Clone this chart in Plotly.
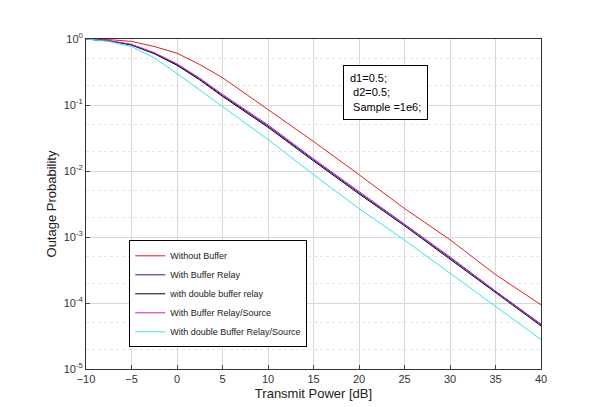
import plotly.graph_objects as go

snr = [-10, -7.5, -5, -2.5, 0, 2.5, 5, 10, 15, 20, 25, 30, 35, 40]

without_buffer = [1.0, 0.98, 0.92, 0.77, 0.61, 0.41, 0.26, 0.085, 0.028, 0.0088, 0.0027, 9.1e-4, 2.7e-4, 9.4e-5]
buffer_relay = [1.0, 0.94, 0.82, 0.61, 0.41, 0.25, 0.14, 0.048, 0.0148, 0.0047, 0.00155, 4.8e-4, 1.5e-4, 4.7e-5]
double_buffer_relay = [1.0, 0.935, 0.81, 0.60, 0.40, 0.24, 0.135, 0.046, 0.0142, 0.0045, 0.00148, 4.6e-4, 1.45e-4, 4.5e-5]
buffer_relay_source = [1.0, 0.945, 0.83, 0.62, 0.42, 0.255, 0.145, 0.050, 0.0153, 0.0049, 0.0016, 5.0e-4, 1.52e-4, 4.8e-5]
double_buffer_relay_source = [1.0, 0.92, 0.77, 0.52, 0.30, 0.17, 0.095, 0.03, 0.0088, 0.0027, 9.0e-4, 2.8e-4, 8.9e-5, 2.8e-5]

y_tickvals = [1, 1e-1, 1e-2, 1e-3, 1e-4, 1e-5]
y_ticktext = ["10<sup>0</sup>", "10<sup>-1</sup>", "10<sup>-2</sup>", "10<sup>-3</sup>", "10<sup>-4</sup>", "10<sup>-5</sup>"]

series = [
    ("Without Buffer", without_buffer, "#e02020"),
    ("With Buffer Relay", buffer_relay, "#2020a0"),
    ("with double buffer relay", double_buffer_relay, "black"),
    ("With Buffer Relay/Source", buffer_relay_source, "#d020d0"),
    ("With double Buffer Relay/Source", double_buffer_relay_source, "#30e8e8"),
]

fig = go.Figure()
for name, vals, col in series:
    fig.add_trace(go.Scatter(x=snr, y=vals, name=name, mode="lines",
                             line=dict(color=col, width=1)))

axis_common = dict(showline=True, linecolor="#333", mirror=True, ticks="inside",
                   ticklen=4, showgrid=True, gridcolor="#d8d8d8", zeroline=False,
                   automargin=False, tickfont=dict(size=11, color="#333"))
fig.update_xaxes(range=[-10, 40], dtick=5, title=dict(text="Transmit Power [dB]", font=dict(size=13), standoff=4),
                 **axis_common)
fig.update_yaxes(type="log", range=[-5, 0], tickvals=y_tickvals, ticktext=y_ticktext,
                 title=dict(text="Outage Probability", font=dict(size=13), standoff=4),
                 minor=dict(showgrid=True, gridcolor="#e6e6e6", griddash="dot", ticks=""),
                 **axis_common)

fig.add_annotation(xref="paper", yref="paper", x=0.565, y=0.92, xanchor="left", yanchor="top",
                   text="d1=0.5;<br> d2=0.5;<br> Sample =1e6;", align="left", showarrow=False,
                   bordercolor="black", borderwidth=1, bgcolor="white", borderpad=6,
                   font=dict(size=11, color="black"))

fig.update_layout(width=591, height=407, margin=dict(l=78, r=58, t=31, b=46),
                  paper_bgcolor="white", plot_bgcolor="white",
                  font=dict(family="Arial, Liberation Sans", color="#222"),
                  legend=dict(x=0.095, y=0.39, xanchor="left", yanchor="top",
                              bordercolor="black", borderwidth=1, bgcolor="white",
                              font=dict(size=9), tracegroupgap=0, itemwidth=30))

fig.write_html("out.html")
